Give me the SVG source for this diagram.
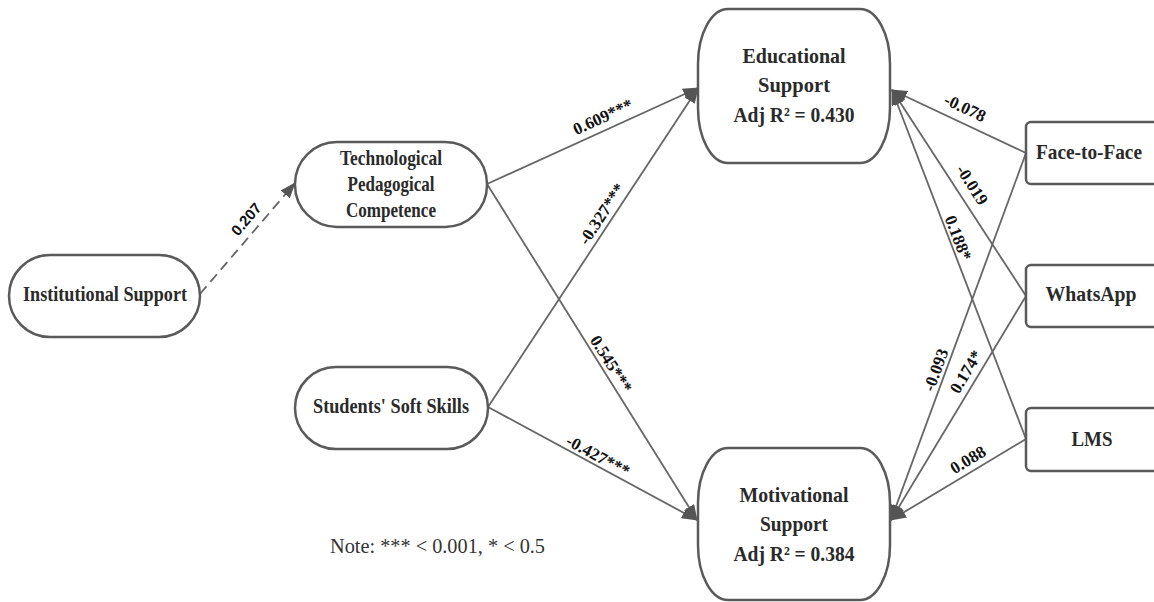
<svg xmlns="http://www.w3.org/2000/svg" width="1154" height="602" viewBox="0 0 1154 602">
<style>
.box{fill:#fff;stroke:#5a5a5a;stroke-width:2.5}
.nt{font-family:"Liberation Serif","Times New Roman",serif;font-weight:bold;font-size:22px;fill:#2a2a2a;text-anchor:middle}
.edge{fill:none;stroke:#666;stroke-width:1.8}
.lbl{font-family:"Liberation Serif","Times New Roman",serif;font-weight:bold;font-size:17px;fill:#111;text-anchor:middle;dominant-baseline:central}
.lbls{font-family:"Liberation Sans",Arial,sans-serif;font-weight:bold;font-size:15px;fill:#111;text-anchor:middle;dominant-baseline:central}
.note{font-family:"Liberation Serif","Times New Roman",serif;font-size:22px;fill:#333}
</style>
<defs>
<marker id="arr" markerUnits="userSpaceOnUse" markerWidth="16" markerHeight="12" refX="15" refY="6" orient="auto">
<path d="M0,0 L16,6 L0,12 z" fill="#555"/>
</marker>
</defs>
<rect width="1154" height="602" fill="#fff"/>
<g id="connectors">
<path class="edge" d="M200,294 L295,183" stroke-dasharray="10,6" marker-end="url(#arr)"/>
<path class="edge" d="M487,184 L698,88" marker-end="url(#arr)"/>
<path class="edge" d="M487,184 L697,520" marker-end="url(#arr)"/>
<path class="edge" d="M488,407 L698,88" marker-end="url(#arr)"/>
<path class="edge" d="M488,407 L697,520" marker-end="url(#arr)"/>
<path class="edge" d="M1026,153 L892,90" marker-end="url(#arr)"/>
<path class="edge" d="M1026,296 L892,90" marker-end="url(#arr)"/>
<path class="edge" d="M1026,439 L892,90" marker-end="url(#arr)"/>
<path class="edge" d="M1026,153 L891,520" marker-end="url(#arr)"/>
<path class="edge" d="M1026,296 L891,520" marker-end="url(#arr)"/>
<path class="edge" d="M1026,439 L891,520" marker-end="url(#arr)"/>
<text class="lbls" transform="translate(246,219) rotate(-49.4)">0.207</text>
<text class="lbl" transform="translate(603,117) rotate(-24.5)">0.609***</text>
<text class="lbl" transform="translate(602,214) rotate(-56.6)">-0.327***</text>
<text class="lbl" transform="translate(611,364) rotate(58)">0.545***</text>
<text class="lbl" transform="translate(598,456) rotate(28.4)">-0.427***</text>
<text class="lbl" transform="translate(965,108) rotate(25.2)">-0.078</text>
<text class="lbl" transform="translate(972,185) rotate(57)">-0.019</text>
<text class="lbl" transform="translate(958,238) rotate(69)">0.188*</text>
<text class="lbl" transform="translate(936,370) rotate(-69.8)">-0.093</text>
<text class="lbl" transform="translate(966,372) rotate(-58.9)">0.174*</text>
<text class="lbl" transform="translate(968,460) rotate(-31)">0.088</text>
</g>
<g id="institutional">
<rect class="box" x="9" y="255" width="191" height="82" rx="41" ry="41"/>
<text class="nt" x="105" y="301" textLength="164" lengthAdjust="spacingAndGlyphs">Institutional Support</text>
</g>
<g id="tpc">
<rect class="box" x="295" y="142" width="192" height="85" rx="42" ry="42"/>
<text class="nt" x="391" y="165" textLength="102" lengthAdjust="spacingAndGlyphs">Technological</text>
<text class="nt" x="391" y="191" textLength="87" lengthAdjust="spacingAndGlyphs">Pedagogical</text>
<text class="nt" x="391" y="217" textLength="90" lengthAdjust="spacingAndGlyphs">Competence</text>
</g>
<g id="softskills">
<rect class="box" x="295" y="367" width="193" height="82" rx="41" ry="41"/>
<text class="nt" x="391" y="413" textLength="156" lengthAdjust="spacingAndGlyphs">Students' Soft Skills</text>
</g>
<g id="educational">
<rect class="box" x="698" y="9" width="192" height="154" rx="30" ry="55"/>
<text class="nt" x="794" y="63" textLength="103" lengthAdjust="spacingAndGlyphs">Educational</text>
<text class="nt" x="794" y="92" textLength="72" lengthAdjust="spacingAndGlyphs">Support</text>
<text class="nt" x="794" y="122" textLength="121" lengthAdjust="spacingAndGlyphs">Adj R² = 0.430</text>
</g>
<g id="motivational">
<rect class="box" x="698" y="448" width="192" height="152" rx="30" ry="55"/>
<text class="nt" x="794" y="502" textLength="109" lengthAdjust="spacingAndGlyphs">Motivational</text>
<text class="nt" x="794" y="531" textLength="68" lengthAdjust="spacingAndGlyphs">Support</text>
<text class="nt" x="794" y="561" textLength="121" lengthAdjust="spacingAndGlyphs">Adj R² = 0.384</text>
</g>
<g id="facetoface">
<rect class="box" x="1026" y="122" width="150" height="62" rx="5" ry="5"/>
<text class="nt" x="1089" y="159" textLength="106" lengthAdjust="spacingAndGlyphs">Face-to-Face</text>
</g>
<g id="whatsapp">
<rect class="box" x="1026" y="265" width="150" height="62" rx="5" ry="5"/>
<text class="nt" x="1091" y="301" textLength="91" lengthAdjust="spacingAndGlyphs">WhatsApp</text>
</g>
<g id="lms">
<rect class="box" x="1026" y="408" width="150" height="63" rx="5" ry="5"/>
<text class="nt" x="1092" y="446" textLength="41" lengthAdjust="spacingAndGlyphs">LMS</text>
</g>
<text class="note" x="330" y="553" textLength="215" lengthAdjust="spacingAndGlyphs">Note: *** &lt; 0.001, * &lt; 0.5</text>
</svg>
